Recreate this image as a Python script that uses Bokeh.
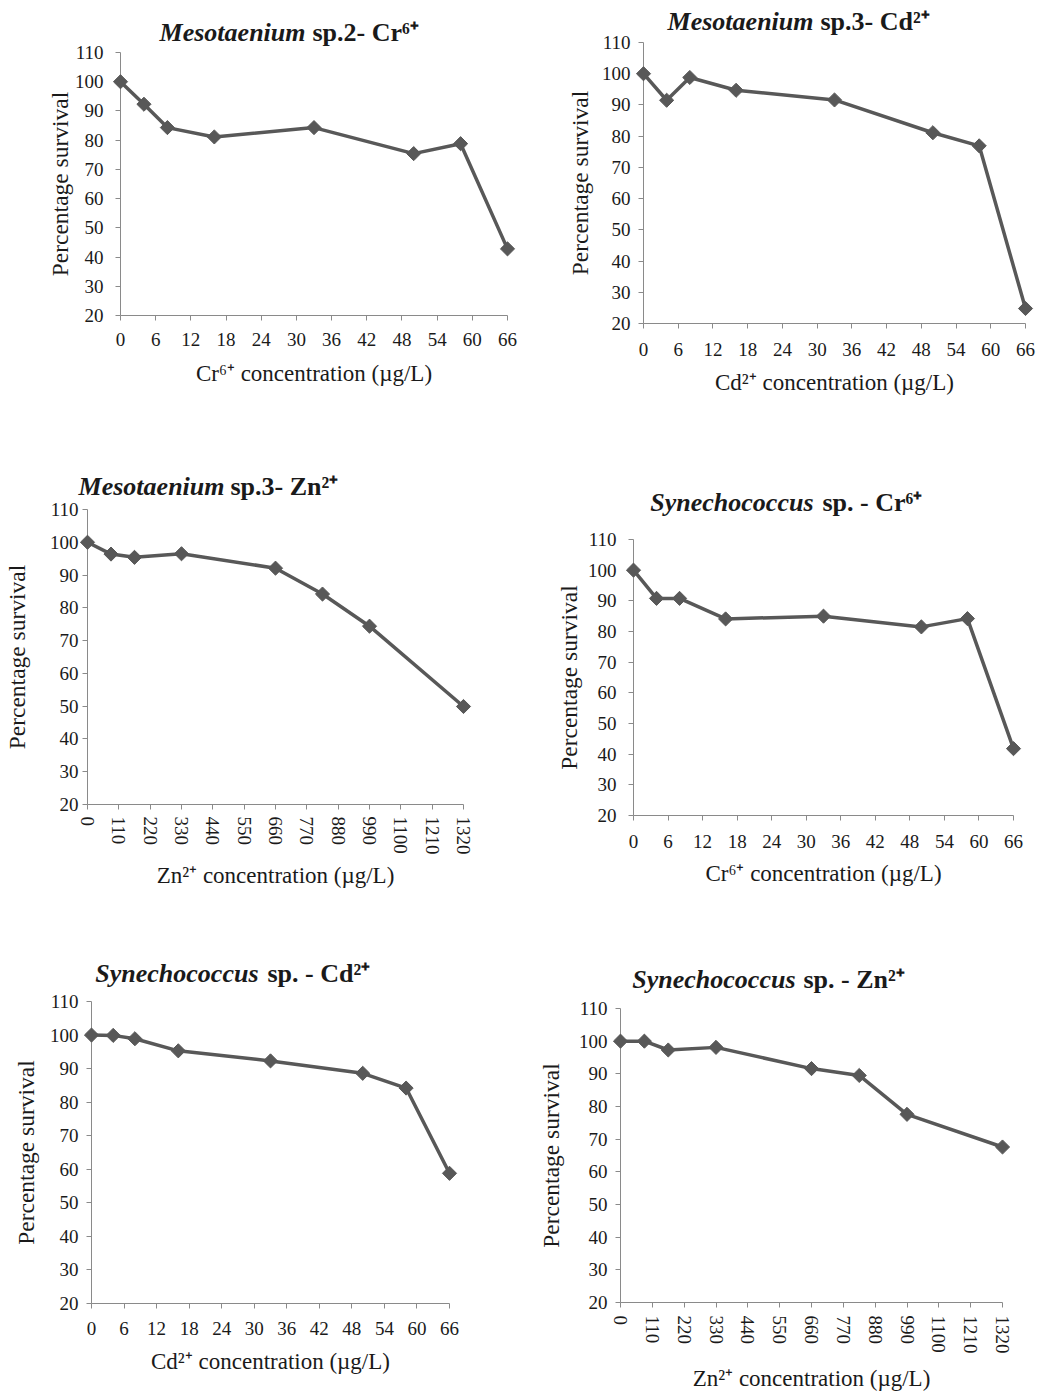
import math
from bokeh.plotting import figure
from bokeh.models import Range1d, FixedTicker
from bokeh.core.properties import value
from bokeh.layouts import column, row
from bokeh.embed import file_html
from bokeh.resources import INLINE

# ---------------- data ----------------
conc_cr_cd = [0, 4, 8, 16, 33, 50, 58, 66]
conc_zn = [0, 82.5, 165, 330, 660, 825, 990, 1320]

meso2_cr = [100, 92.3, 84.3, 81.1, 84.3, 75.4, 78.8, 42.8]
meso3_cd = [100, 91.5, 98.8, 94.7, 91.6, 81.1, 76.9, 24.8]
meso3_zn = [100, 96.4, 95.4, 96.5, 92.1, 84.2, 74.4, 49.9]
syn_cr = [100, 90.8, 90.8, 84.1, 85.0, 81.5, 84.2, 41.8]
syn_cd = [100, 99.9, 98.9, 95.3, 92.3, 88.6, 84.2, 58.8]
syn_zn = [100, 100, 97.3, 98.1, 91.6, 89.5, 77.6, 67.6]

cr_cd_ticks = [0, 6, 12, 18, 24, 30, 36, 42, 48, 54, 60, 66]
zn_ticks = [0, 110, 220, 330, 440, 550, 660, 770, 880, 990, 1100, 1210, 1320]
y_ticks = [20, 30, 40, 50, 60, 70, 80, 90, 100, 110]

y_title = "Percentage survival"
x_title_cr = "Cr\u2076\u207a concentration (\u00b5g/L)"
x_title_cd = "Cd\u00b2\u207a concentration (\u00b5g/L)"
x_title_zn = "Zn\u00b2\u207a concentration (\u00b5g/L)"

# ---------------- style ----------------
SERIF = "Liberation Serif"
TEXT = "#1a1a1a"
AXIS = "#8a8a8a"
LINE = "#585858"


def make_panel(xs, ys, xmax, xticks, vertical, t_it, t_rest, xlabel,
               cell, geo, tgeo, st):
    cx, cy, cw, ch = cell
    ax0, ax1, atop, abot = [int(round(v)) for v in geo]
    p = figure(frame_width=ax1 - ax0, frame_height=abot - atop,
               min_border_left=ax0 - cx, min_border_right=cx + cw - ax1,
               min_border_top=atop - cy, min_border_bottom=cy + ch - abot,
               x_range=Range1d(0, xmax), y_range=Range1d(20, 110),
               output_backend="svg", toolbar_location=None,
               background_fill_color="white", border_fill_color="white")
    p.outline_line_color = None
    p.grid.visible = False

    xa = p.xaxis[0]
    xa.ticker = FixedTicker(ticks=xticks)
    xa.axis_line_color = AXIS
    xa.major_tick_line_color = AXIS
    xa.minor_tick_line_color = None
    xa.major_tick_out = 5
    xa.major_tick_in = 0
    xa.major_label_text_font = SERIF
    xa.major_label_text_font_size = "19px"
    xa.major_label_text_color = TEXT
    xa.major_label_standoff = st[2]
    if vertical:
        xa.major_label_orientation = "vertical"
    xa.axis_label = xlabel
    xa.axis_label_text_font = SERIF
    xa.axis_label_text_font_size = "23px"
    xa.axis_label_text_font_style = "normal"
    xa.axis_label_text_color = TEXT
    xa.axis_label_standoff = st[3]

    ya = p.yaxis[0]
    ya.ticker = FixedTicker(ticks=y_ticks)
    ya.axis_line_color = AXIS
    ya.major_tick_line_color = AXIS
    ya.minor_tick_line_color = None
    ya.major_tick_out = 5
    ya.major_tick_in = 0
    ya.major_label_text_font = SERIF
    ya.major_label_text_font_size = "19px"
    ya.major_label_text_color = TEXT
    ya.major_label_standoff = st[0]
    ya.axis_label = y_title
    ya.axis_label_text_font = SERIF
    ya.axis_label_text_font_size = "23.5px"
    ya.axis_label_text_font_style = "normal"
    ya.axis_label_text_color = TEXT
    ya.axis_label_standoff = st[1]

    p.line(xs, ys, line_color=LINE, line_width=3.5, level="overlay")
    p.scatter(xs, ys, marker="square", angle=math.pi / 4, size=10,
              fill_color=LINE, line_color=LINE, level="overlay")

    # title: two text pieces placed above the frame (page pixel -> data)
    it_right, rest_left, base = tgeo
    dx = xmax / (ax1 - ax0)
    dy = 90.0 / (abot - atop)
    ty = 110 + (atop - base) * dy
    p.text(x=[(it_right - ax0) * dx], y=[ty], text=[t_it],
           text_font=value(SERIF), text_font_size="26px",
           text_font_style="bold italic", text_color=TEXT,
           text_align="right", text_baseline="alphabetic", level="overlay")
    p.text(x=[(rest_left - ax0) * dx], y=[ty], text=[t_rest],
           text_font=value(SERIF), text_font_size="26px",
           text_font_style="bold", text_color=TEXT,
           text_align="left", text_baseline="alphabetic", level="overlay")
    return p


p1 = make_panel(conc_cr_cd, meso2_cr, 66, cr_cd_ticks, False,
                "Mesotaenium", "sp.2- Cr\u2076\u207a", x_title_cr,
                (0, 0, 520, 430), (120, 507, 52, 315), (305, 312, 32), (12, -1, 12, 12))
p2 = make_panel(conc_cr_cd, meso3_cd, 66, cr_cd_ticks, False,
                "Mesotaenium", "sp.3- Cd\u00b2\u207a", x_title_cd,
                (520, 0, 518, 430), (643, 1025, 42, 323), (813, 820, 21), (8, 6, 14, 11))
p3 = make_panel(conc_zn, meso3_zn, 1320, zn_ticks, True,
                "Mesotaenium", "sp.3- Zn\u00b2\u207a", x_title_zn,
                (0, 430, 520, 490), (87, 463, 509, 804), (224, 230, 486), (4, 17, 7, 5))
p4 = make_panel(conc_cr_cd, syn_cr, 66, cr_cd_ticks, False,
                "Synechococcus", "sp. - Cr\u2076\u207a", x_title_cr,
                (520, 430, 518, 490), (633, 1013, 539, 815), (813, 822, 502), (12, 3, 14, 10))
p5 = make_panel(conc_cr_cd, syn_cd, 66, cr_cd_ticks, False,
                "Synechococcus", "sp. - Cd\u00b2\u207a", x_title_cd,
                (0, 920, 520, 474), (91, 449, 1001, 1303), (258, 267, 973), (8, 8, 13, 11))
p6 = make_panel(conc_zn, syn_zn, 1320, zn_ticks, True,
                "Synechococcus", "sp. - Zn\u00b2\u207a", x_title_zn,
                (520, 920, 518, 474), (620, 1002, 1008, 1302), (795, 803, 979), (8, 12, 8, 9))

layout = column(row(column(p1), column(p2)),
                row(column(p3), column(p4)),
                row(column(p5), column(p6)))

open("out.html", "w").write(file_html(layout, INLINE))
